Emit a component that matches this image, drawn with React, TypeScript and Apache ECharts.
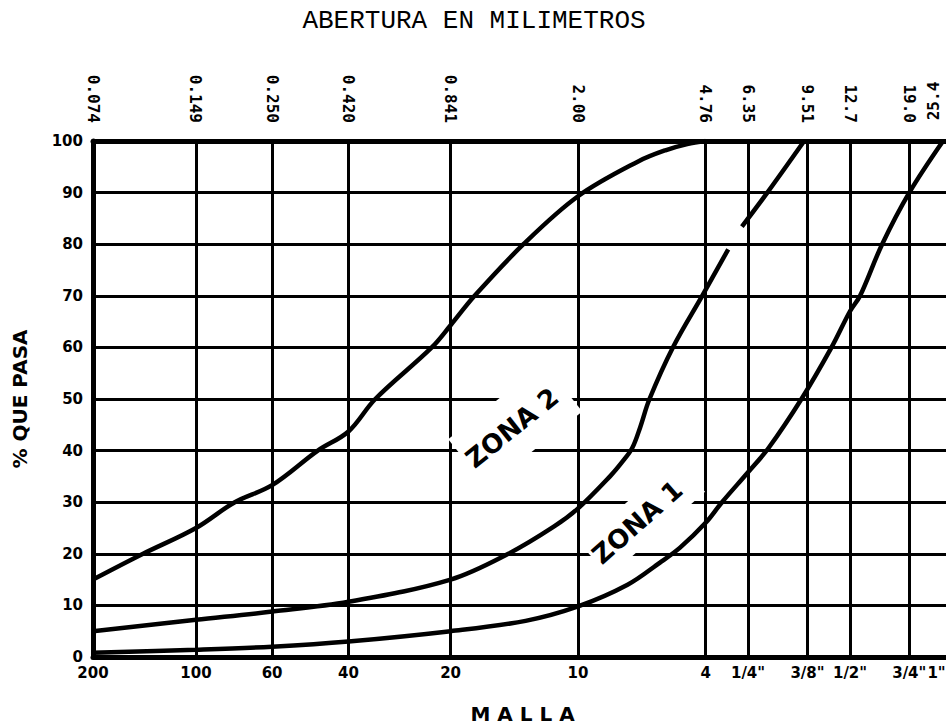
import React, { useEffect, useRef } from "react";
import * as echarts from "echarts";

// Sieve openings (mm) and their labels
const openingMm = [0.074, 0.149, 0.25, 0.42, 0.841, 2.0, 4.76, 6.35, 9.51, 12.7, 19.0, 25.4];
const openingLabels = ["0.074", "0.149", "0.250", "0.420", "0.841", "2.00", "4.76", "6.35", "9.51", "12.7", "19.0", "25.4"];
const meshLabels = ["200", "100", "60", "40", "20", "10", "4", '1/4"', '3/8"', '1/2"', '3/4"', '1"'];

// Upper boundary of ZONA 2
const upperMm = [0.074, 0.104, 0.149, 0.194, 0.25, 0.341, 0.42, 0.504, 0.74, 0.841, 0.99, 1.38, 2.0, 3.0, 3.62, 4.2, 4.76];
const upperPct = [15, 20, 25, 30, 33.3, 40, 43.7, 50, 60, 64.3, 70, 80, 89.3, 96, 98.2, 99.4, 100];

// Boundary between ZONA 2 and ZONA 1
const middleMm = [0.074, 0.149, 0.25, 0.42, 0.841, 1.245, 1.7, 2.0, 2.5, 2.7, 2.89, 3.05, 3.25, 3.81, 4.65, 5.55, 5.8, 6.09, 7.24, 9.3];
const middlePct: (number | null)[] = [5, 7.2, 8.8, 10.7, 15, 20, 25.3, 28.8, 35.2, 37.8, 40.5, 44.5, 50, 60, 70, 79, null, 83.4, 90, 100];

// Lower boundary of ZONA 1
const lowerMm = [0.074, 0.149, 0.25, 0.42, 0.841, 1.4, 2.0, 2.8, 3.49, 4.0, 4.76, 5.32, 6.35, 7.3, 9.13, 11.2, 12.7, 13.6, 15.8, 19.0, 23.9];
const lowerPct = [0.8, 1.4, 2, 3, 5, 7, 9.8, 14, 18.3, 21.2, 26, 30, 35.8, 40.5, 50, 60, 67, 70, 80, 90, 100];

// Zone annotations
const zoneNames = ["ZONA 2", "ZONA 1"];
const zoneMm = [1.305, 3.1];
const zonePct = [44.9, 27.0];

const tickVals = openingMm.map((m) => Math.log10(m));
const logMin = tickVals[0];
const logMax = tickVals[tickVals.length - 1];
const lastIdx = tickVals.length - 1;

function nearestIndex(v: number): number {
  let best = 0;
  let bd = Infinity;
  tickVals.forEach((t, i) => {
    const d = Math.abs(t - v);
    if (d < bd) {
      bd = d;
      best = i;
    }
  });
  return best;
}

function toData(mm: number[], pct: (number | null)[]) {
  return mm.map((m, i) => [Math.log10(m), pct[i] == null ? "-" : pct[i]]);
}

const lineStyleCurve = { color: "#000", width: 4.5 };

export default function App() {
  const ref = useRef<HTMLDivElement>(null);

  useEffect(() => {
    if (!ref.current) return;
    document.body.style.overflow = "hidden";
    const chart = echarts.init(ref.current, undefined, { renderer: "svg" });
    const labelFont = { color: "#000", fontFamily: "DejaVu Sans", fontWeight: "bold" as const };
    const topFont = { color: "#000", fontFamily: "DejaVu Sans Mono", fontWeight: "bold" as const, fontSize: 16 };
    const option: any = {
      animation: false,
      backgroundColor: "#fff",
      grid: { left: 93, right: 8, top: 141, bottom: 70, containLabel: false, outerBoundsMode: "none" },
      graphic: [
        {
          type: "text",
          x: 474,
          y: 21,
          style: {
            text: "ABERTURA EN MILIMETROS",
            fontFamily: "Liberation Mono",
            fontSize: 26,
            fill: "#000",
            textAlign: "center",
            textVerticalAlign: "middle",
          },
        },
      ],
      xAxis: [
        {
          type: "value",
          position: "bottom",
          min: logMin,
          max: logMax,
          axisLine: { show: true, onZero: false, lineStyle: { color: "#000", width: 5 } },
          axisTick: { show: false, customValues: tickVals },
          axisLabel: {
            customValues: tickVals,
            showMinLabel: true,
            showMaxLabel: true,
            hideOverlap: false,
            formatter: (v: number) => {
              const i = nearestIndex(v);
              return i === lastIdx ? `{edge|${meshLabels[i]}}` : meshLabels[i];
            },
            fontSize: 15,
            margin: 8,
            ...labelFont,
            rich: { edge: { fontSize: 15, ...labelFont, padding: [0, 31, 0, 0] } },
          },
          splitLine: { show: true, lineStyle: { color: "#000", width: 3 } },
          name: "M A L L A",
          nameLocation: "middle",
          nameGap: 47,
          nameTextStyle: { fontSize: 20, ...labelFont },
        },
        {
          type: "value",
          position: "top",
          min: logMin,
          max: logMax,
          axisLine: { show: true, onZero: false, lineStyle: { color: "#000", width: 5 } },
          axisTick: { show: false, customValues: tickVals.slice(0, lastIdx) },
          axisLabel: {
            customValues: tickVals.slice(0, lastIdx),
            showMinLabel: true,
            hideOverlap: false,
            rotate: 90,
            formatter: (v: number) => openingLabels[nearestIndex(v)],
            margin: 18,
            ...topFont,
          },
          splitLine: { show: false },
        },
      ],
      yAxis: {
        type: "value",
        min: 0,
        max: 100,
        interval: 10,
        axisLine: { show: true, onZero: false, lineStyle: { color: "#000", width: 5 } },
        axisTick: { show: false },
        axisLabel: { fontSize: 15, margin: 10, ...labelFont },
        splitLine: { show: true, lineStyle: { color: "#000", width: 3 } },
        name: "% QUE PASA",
        nameLocation: "middle",
        nameGap: 63,
        nameRotate: 90,
        nameTextStyle: { fontSize: 20, ...labelFont },
      },
      series: [
        {
          type: "line",
          name: "upper",
          data: toData(upperMm, upperPct),
          showSymbol: false,
          smooth: 0.35,
          lineStyle: lineStyleCurve,
          silent: true,
          markPoint: {
            silent: true,
            symbol: "circle",
            symbolSize: 0,
            itemStyle: { color: "rgba(0,0,0,0)" },
            data: [
              {
                coord: [Math.log10(zoneMm[0]), zonePct[0]],
                label: {
                  show: true,
                  position: "inside",
                  formatter: zoneNames[0],
                  rotate: 38.6,
                  fontSize: 26,
                  ...labelFont,
                  backgroundColor: "#fff",
                  padding: [24, 10, 12, 2],
                },
              },
              {
                coord: [Math.log10(zoneMm[1]), zonePct[1]],
                label: {
                  show: true,
                  position: "inside",
                  formatter: zoneNames[1],
                  rotate: 41.5,
                  fontSize: 26,
                  ...labelFont,
                  backgroundColor: "#fff",
                  padding: [8, 16, 10, 2],
                },
              },
            ],
          },
        },
        {
          type: "line",
          name: "middle",
          data: toData(middleMm, middlePct),
          showSymbol: false,
          smooth: 0.35,
          connectNulls: false,
          lineStyle: lineStyleCurve,
          silent: true,
        },
        {
          type: "line",
          name: "lower",
          data: toData(lowerMm, lowerPct),
          showSymbol: false,
          smooth: 0.35,
          lineStyle: lineStyleCurve,
          silent: true,
          markPoint: {
            silent: true,
            symbol: "circle",
            symbolSize: 0,
            symbolOffset: [-19, -40],
            itemStyle: { color: "rgba(0,0,0,0)" },
            data: [
              {
                coord: [logMax, 100],
                label: {
                  show: true,
                  position: "inside",
                  formatter: openingLabels[lastIdx],
                  rotate: 90,
                  ...topFont,
                },
              },
            ],
          },
        },
      ],
    };
    chart.setOption(option);
    return () => chart.dispose();
  }, []);

  return (
    <div
      ref={ref}
      style={{ position: "fixed", left: 0, top: 0, width: 960, height: 727, background: "#fff" }}
    />
  );
}
